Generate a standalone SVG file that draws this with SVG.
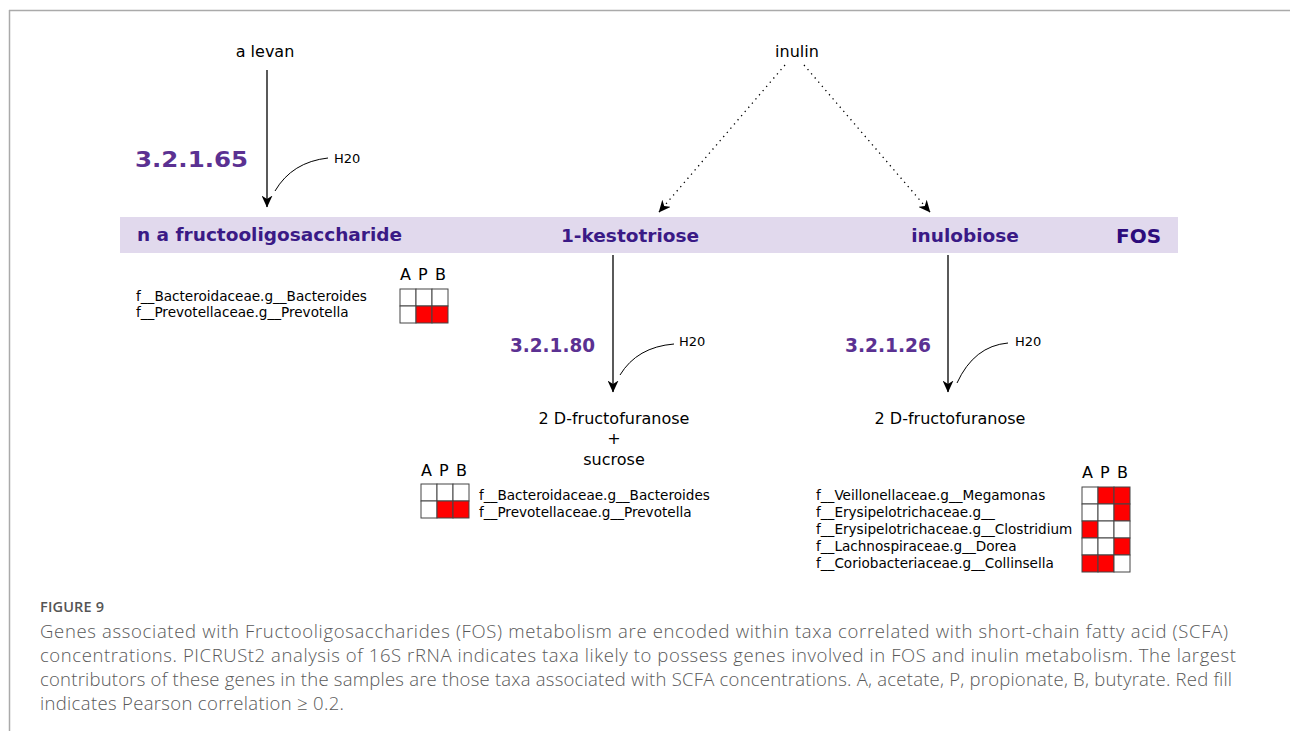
<svg xmlns="http://www.w3.org/2000/svg" width="1290" height="731" viewBox="0 0 1290 731">
<style>
.t{font-family:"DejaVu Sans",Verdana,sans-serif;fill:#000}
.m{font-size:16px}
.s{font-size:13.6px}
.h{font-size:13px}
.b{font-family:"DejaVu Sans",Verdana,sans-serif;font-weight:bold;font-size:18.5px;fill:#3a1a86}
.ec{font-family:"DejaVu Sans",Verdana,sans-serif;font-weight:bold;font-size:20px;fill:#5b3192}
.cap{font-family:"Open Sans",sans-serif;font-size:18.5px;fill:#595959;font-weight:300}
.arr{stroke:#000;stroke-width:1.3;fill:none}
.dot{stroke:#000;stroke-width:1.3;fill:none;stroke-dasharray:1.3 4.2}
.cv{stroke:#000;stroke-width:1;fill:none}
.c{stroke:#444;stroke-width:1;fill:#fff}
.r{stroke:#444;stroke-width:1;fill:#f00}
</style>
<defs>
<marker id="ah" viewBox="0 0 12 11" refX="11.5" refY="5.5" markerWidth="12" markerHeight="11" markerUnits="userSpaceOnUse" orient="auto">
<path d="M0,0 L12,5.5 L0,11 L3.5,5.5 z" fill="#000"/>
</marker>
</defs>
<g id="frame">
<line x1="9" y1="10.5" x2="1290" y2="10.5" stroke="#aaa" stroke-width="1.5"/>
<line x1="9.5" y1="10" x2="9.5" y2="731" stroke="#aaa" stroke-width="1.5"/>
</g>
<g id="fos-bar">
<rect x="120" y="217" width="1058" height="36" fill="#e1d9ed"/>
<text class="b" x="1116" y="243" style="fill:#2d0c7c;font-size:20px">FOS</text>
</g>
<g id="levan"><text class="t m" x="265" y="57" text-anchor="middle">a levan</text></g>
<g id="inulin"><text class="t m" x="797" y="57" text-anchor="middle">inulin</text></g>
<g id="fructooligosaccharide"><text class="b" x="137" y="241">n a fructooligosaccharide</text></g>
<g id="kestotriose"><text class="b" x="630" y="242" text-anchor="middle">1-kestotriose</text></g>
<g id="inulobiose"><text class="b" x="965" y="242" text-anchor="middle">inulobiose</text></g>
<g id="ec65"><text class="ec" x="135" y="167" style="font-size:22px" textLength="113" lengthAdjust="spacingAndGlyphs">3.2.1.65</text></g>
<g id="ec80"><text class="ec" x="510" y="352" textLength="85" lengthAdjust="spacingAndGlyphs">3.2.1.80</text></g>
<g id="ec26"><text class="ec" x="845" y="352" textLength="86" lengthAdjust="spacingAndGlyphs">3.2.1.26</text></g>
<g id="h2o-1"><text class="t h" x="334" y="163">H20</text></g>
<g id="h2o-2"><text class="t h" x="679" y="346">H20</text></g>
<g id="h2o-3"><text class="t h" x="1015" y="346">H20</text></g>
<g id="products-80">
<text class="t m" x="614" y="424" text-anchor="middle">2 D-fructofuranose</text>
<text class="t m" x="614" y="444" text-anchor="middle">+</text>
<text class="t m" x="614" y="465" text-anchor="middle">sucrose</text>
</g>
<g id="products-26"><text class="t m" x="950" y="424" text-anchor="middle">2 D-fructofuranose</text></g>
<g id="connectors">
<line class="arr" x1="267" y1="70" x2="267" y2="207" marker-end="url(#ah)"/>
<path class="cv" d="M275,191 Q292,162 328,158"/>
<line class="dot" x1="785" y1="65" x2="659" y2="212" marker-end="url(#ah)"/>
<line class="dot" x1="804" y1="65" x2="930" y2="212" marker-end="url(#ah)"/>
<line class="arr" x1="613" y1="255" x2="613" y2="392" marker-end="url(#ah)"/>
<path class="cv" d="M620,375 Q637,347 674,344"/>
<line class="arr" x1="948" y1="255" x2="948" y2="392" marker-end="url(#ah)"/>
<path class="cv" d="M957,383 Q974,346 1008,343"/>
</g>
<g id="heatmap-1">
<text class="t m" x="400" y="280">A</text><text class="t m" x="418" y="280">P</text><text class="t m" x="435" y="280">B</text>
<rect class="c" x="400" y="289" width="16" height="17"/><rect class="c" x="416" y="289" width="16" height="17"/><rect class="c" x="432" y="289" width="16" height="17"/>
<rect class="c" x="400" y="306" width="16" height="17"/><rect class="r" x="416" y="306" width="16" height="17"/><rect class="r" x="432" y="306" width="16" height="17"/>
<text class="t s" x="136" y="301">f__Bacteroidaceae.g__Bacteroides</text>
<text class="t s" x="136" y="317">f__Prevotellaceae.g__Prevotella</text>
</g>
<g id="heatmap-2">
<text class="t m" x="421" y="476">A</text><text class="t m" x="439" y="476">P</text><text class="t m" x="456" y="476">B</text>
<rect class="c" x="421" y="484" width="16" height="17"/><rect class="c" x="437" y="484" width="16" height="17"/><rect class="c" x="453" y="484" width="16" height="17"/>
<rect class="c" x="421" y="501" width="16" height="17"/><rect class="r" x="437" y="501" width="16" height="17"/><rect class="r" x="453" y="501" width="16" height="17"/>
<text class="t s" x="479" y="500">f__Bacteroidaceae.g__Bacteroides</text>
<text class="t s" x="479" y="517">f__Prevotellaceae.g__Prevotella</text>
</g>
<g id="heatmap-3">
<text class="t m" x="1082" y="478">A</text><text class="t m" x="1100" y="478">P</text><text class="t m" x="1117" y="478">B</text>
<rect class="c" x="1082" y="487" width="16" height="17"/><rect class="r" x="1098" y="487" width="16" height="17"/><rect class="r" x="1114" y="487" width="16" height="17"/>
<rect class="c" x="1082" y="504" width="16" height="17"/><rect class="c" x="1098" y="504" width="16" height="17"/><rect class="r" x="1114" y="504" width="16" height="17"/>
<rect class="r" x="1082" y="521" width="16" height="17"/><rect class="c" x="1098" y="521" width="16" height="17"/><rect class="c" x="1114" y="521" width="16" height="17"/>
<rect class="c" x="1082" y="538" width="16" height="17"/><rect class="c" x="1098" y="538" width="16" height="17"/><rect class="r" x="1114" y="538" width="16" height="17"/>
<rect class="r" x="1082" y="555" width="16" height="17"/><rect class="r" x="1098" y="555" width="16" height="17"/><rect class="c" x="1114" y="555" width="16" height="17"/>
<text class="t s" x="816" y="500">f__Veillonellaceae.g__Megamonas</text>
<text class="t s" x="816" y="517">f__Erysipelotrichaceae.g__</text>
<text class="t s" x="816" y="534">f__Erysipelotrichaceae.g__Clostridium</text>
<text class="t s" x="816" y="551">f__Lachnospiraceae.g__Dorea</text>
<text class="t s" x="816" y="568">f__Coriobacteriaceae.g__Collinsella</text>
</g>
<g id="caption">
<text x="40" y="612" style="font-family:'Open Sans',sans-serif;font-size:14.5px;fill:#555;font-weight:600" textLength="64">FIGURE 9</text>
<text class="cap" x="40" y="638" textLength="1188">Genes associated with Fructooligosaccharides (FOS) metabolism are encoded within taxa correlated with short-chain fatty acid (SCFA)</text>
<text class="cap" x="40" y="662" textLength="1196">concentrations. PICRUSt2 analysis of 16S rRNA indicates taxa likely to possess genes involved in FOS and inulin metabolism. The largest</text>
<text class="cap" x="40" y="686" textLength="1192">contributors of these genes in the samples are those taxa associated with SCFA concentrations. A, acetate, P, propionate, B, butyrate. Red fill</text>
<text class="cap" x="40" y="710" textLength="304">indicates Pearson correlation ≥ 0.2.</text>
</g>
</svg>
